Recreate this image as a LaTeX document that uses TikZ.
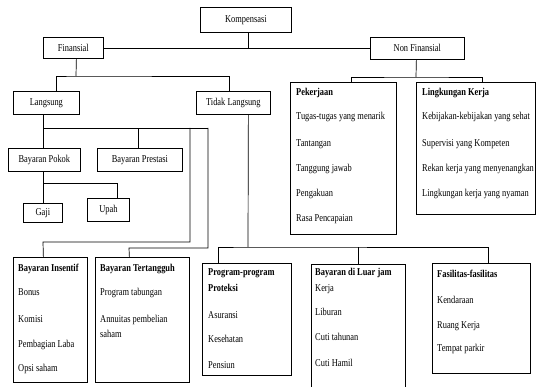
\documentclass[tikz,border=0pt]{standalone}
\usepackage{fontspec}
\setmainfont[FakeStretch=0.8]{Liberation Serif}
\begin{document}
\begin{tikzpicture}[x=1pt,y=-1pt,
  box/.style={draw=black, line width=0.75pt, fill=white, inner sep=0pt, anchor=north west, font=\fontsize{10.5}{12}\selectfont},
  item/.style={anchor=base west, inner sep=0pt, font=\fontsize{10.5}{12}\selectfont},
  head/.style={item, font=\fontsize{10.5}{12}\selectfont\bfseries},
  conn/.style={draw=black, line width=0.7pt}]
\useasboundingbox (0,0) rectangle (538,387);
% simple boxes
\node[box, minimum width=91pt, minimum height=25pt] (komp) at (200,7) {Kompensasi};
\node[box, minimum width=60pt, minimum height=21pt] (fin) at (43,37) {Finansial};
\node[box, minimum width=94pt, minimum height=22pt] (nonfin) at (370,37) {Non Finansial};
\node[box, minimum width=66pt, minimum height=23pt] (lang) at (13,91) {Langsung};
\node[box, minimum width=74pt, minimum height=23pt] (tidak) at (196,91) {Tidak Langsung};
\node[box, minimum width=72pt, minimum height=23pt] (pokok) at (8,148) {Bayaran Pokok};
\node[box, minimum width=85pt, minimum height=23pt] (prest) at (97,148) {Bayaran Prestasi};
\node[box, minimum width=39pt, minimum height=19pt] (gaji) at (23,203) {Gaji};
\node[box, minimum width=42pt, minimum height=23pt] (upah) at (87,198) {\raisebox{3pt}{Upah}};
% list boxes
\node[box, minimum width=106pt, minimum height=152pt] (pek) at (290,82) {};
\node[box, minimum width=119pt, minimum height=132pt] (ling) at (416,82) {};
\node[box, minimum width=74pt, minimum height=125pt] (insen) at (13,257) {};
\node[box, minimum width=94pt, minimum height=125pt] (tert) at (95,257) {};
\node[box, minimum width=89pt, minimum height=112pt] (prog) at (202,263) {};
\node[box, draw=none, fill=none, minimum width=94pt, minimum height=126pt] (luar) at (311,264) {};
\draw[line width=0.75pt] (luar.south west) |- (luar.north east) -- (luar.south east);
\node[box, minimum width=98pt, minimum height=110pt] (fasil) at (432,263) {};
% texts: Pekerjaan
\node[head] (pek0) at (296,96) {Pekerjaan};
\node[item] (pek1) at (296,120) {Tugas-tugas yang menarik};
\node[item] (pek2) at (296,147) {Tantangan};
\node[item] (pek3) at (296,172) {Tanggung jawab};
\node[item] (pek4) at (296,197) {Pengakuan};
\node[item] (pek5) at (296,222) {Rasa Pencapaian};
% Lingkungan Kerja
\node[head] (ling0) at (422,96) {Lingkungan Kerja};
\node[item] (ling1) at (422,120) {Kebijakan-kebijakan yang sehat};
\node[item] (ling2) at (422,147) {Supervisi yang Kompeten};
\node[item] (ling3) at (422,172) {Rekan kerja yang menyenangkan};
\node[item] (ling4) at (422,197) {Lingkungan kerja yang nyaman};
% Bayaran Insentif
\node[head] (ins0) at (18,272) {Bayaran Insentif};
\node[item] (ins1) at (18,296) {Bonus};
\node[item] (ins2) at (18,322) {Komisi};
\node[item] (ins3) at (18,347) {Pembagian Laba};
\node[item] (ins4) at (18,371) {Opsi saham};
% Bayaran Tertangguh
\node[head] (ter0) at (100,272) {Bayaran Tertangguh};
\node[item] (ter1) at (100,296) {Program tabungan};
\node[item] (ter2) at (100,323) {Annuitas pembelian};
\node[item] (ter3) at (100,337) {saham};
% Program-program Proteksi
\node[head] (pro0) at (208,276) {Program-program};
\node[head] (pro1) at (208,292) {Proteksi};
\node[item] (pro2) at (208,318) {Asuransi};
\node[item] (pro3) at (208,342) {Kesehatan};
\node[item] (pro4) at (208,368) {Pensiun};
% Bayaran di Luar jam Kerja
\node[head] (lu0) at (315,276) {Bayaran di Luar jam};
\node[item] (lu1) at (315,292) {Kerja};
\node[item] (lu2) at (315,316) {Liburan};
\node[item] (lu3) at (315,341) {Cuti tahunan};
\node[item] (lu4) at (315,366) {Cuti Hamil};
% Fasilitas
\node[head] (fa0) at (437,278) {Fasilitas-fasilitas};
\node[item] (fa1) at (437,303) {Kendaraan};
\node[item] (fa2) at (437,328) {Ruang Kerja};
\node[item] (fa3) at (437,351) {Tempat parkir};
% connectors
\draw[conn] ([xshift=2.5pt]komp.south) -- ([xshift=2.5pt]komp.south |- fin.east);
\draw[conn] (fin.east) -- (fin.east -| nonfin.west);
\coordinate (fj) at (76,76);
\draw[conn] ([xshift=3pt]fin.south) -- (fj);
\draw[conn] ([xshift=10pt]lang.north) |- (fj) -| ([xshift=-4pt]tidak.north);
\coordinate (nj) at (416,77);
\draw[conn] ([xshift=-1pt]nonfin.south) -- (nj);
\draw[conn] ([xshift=8pt]pek.north) |- (nj) -| ([xshift=6.5pt]ling.north);
% Langsung subtree
\coordinate (lj) at (43,128);
\coordinate (lr1) at (190,128);
\coordinate (lr2) at (208,128);
\draw[conn] ([xshift=-3pt]lang.south) -- ([xshift=-1pt]pokok.north);
\draw[conn] (lj) -- (lr2);
\draw[conn] ([xshift=-1.5pt]prest.north) -- ([xshift=-1.5pt]prest.north |- lj);
\draw[conn] (lr1) |- (43,242) coordinate (ij) -- ([xshift=-7pt]insen.north);
\draw[conn] (lr2) |- (129,248) coordinate (tj) -- ([xshift=-13pt]tert.north);
\draw[conn] ([xshift=-1pt]pokok.south) -- ([xshift=0.5pt]gaji.north);
\coordinate (gj) at (43,183);
\draw[conn] (gj) -| ([xshift=9pt]upah.north);
% Tidak Langsung subtree
\coordinate (tl) at (248,247);
\draw[conn] ([xshift=15pt]tidak.south) -- (tl);
\draw[conn] ([xshift=-28.5pt]prog.north) |- (tl) -| ([xshift=7pt]fasil.north);
\draw[conn] (luar.north) -- (luar.north |- tl);
\end{tikzpicture}
\end{document}
